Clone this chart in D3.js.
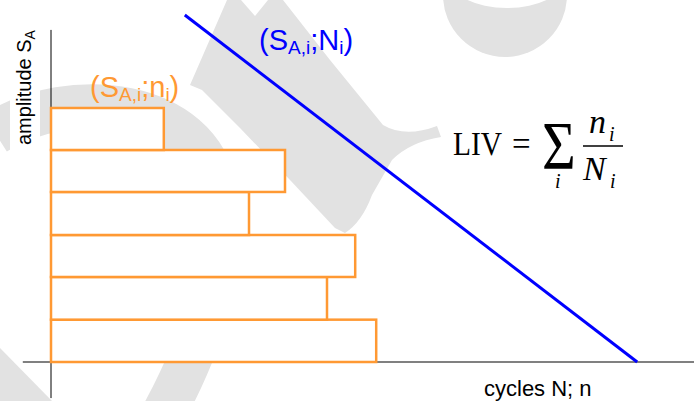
<!DOCTYPE html>
<html>
<head>
<meta charset="utf-8">
<script src="https://cdn.jsdelivr.net/npm/d3@7.9.0/dist/d3.min.js"></script>
<style>
  html, body { margin: 0; padding: 0; background: #fff; }
  svg { display: block; }
</style>
</head>
<body>
<svg id="chart" width="694" height="401"></svg>
<script>
// load levels (block spectrum), bottom to top
const levels = ['1', '2', '3', '4', '5', '6'];
const ampLow = [0, 12.2, 24.5, 36.6, 49.0, 61.1];
const ampHigh = [12.2, 24.5, 36.6, 49.0, 61.1, 73.2];
const cyclesN = [54.2, 46.0, 50.7, 33.0, 39.0, 18.8];

// S-N curve end points
const curveN = [22.3, 97.7];
const curveS = [100, 0];

// axis extents (in data units)
const xAxisExtent = [-4.7, 107.2];
const yAxisExtent = [-10.4, 95.7];

const W = 694, H = 401;
const grey = '#e2e2e2';
const orange = '#ff9933';

function draw() {
  const svg = d3.select('#chart');
  svg.selectAll('*').remove();

  const x = d3.scaleLinear().domain([0, 100]).range([51, 651]);
  const y = d3.scaleLinear().domain([0, 100]).range([362, 15]);

  svg.append('rect').attr('width', W).attr('height', H).attr('fill', '#fff');

  // faint watermark behind the chart
  const wm = svg.append('g').attr('fill', grey);
  wm.append('path')
    .attr('d', 'M-5,133 C70,85 200,100 215,190 C225,260 210,330 160,420')
    .attr('fill', 'none')
    .attr('stroke', grey)
    .attr('stroke-width', 44);
  wm.append('path')
    .attr('d', 'M227,0 L241,0 L255,16 L268,0 L283,0 L330,60 L383,125 Q405,138 437,126 L441,137 Q410,142 392,160 L372,195 Q362,222 345,233 L335,228 L290,180 L240,128 L202,90 L190,85 Z');
  wm.append('path')
    .attr('d', d3.arc()({ innerRadius: 0, outerRadius: 62, startAngle: 0, endAngle: 2 * Math.PI }))
    .attr('transform', 'translate(505,-5)');
  wm.append('ellipse')
    .attr('cx', 507).attr('cy', -22).attr('rx', 58).attr('ry', 30)
    .attr('fill', '#fff');
  wm.append('path').attr('d', 'M0,348 L52,401 L0,401 Z');

  // white box behind the y title
  svg.append('rect').attr('x', 10).attr('y', 20).attr('width', 30).attr('height', 145)
    .attr('fill', '#fff');

  // axes
  svg.append('line')
    .attr('x1', x(xAxisExtent[0])).attr('x2', x(xAxisExtent[1]))
    .attr('y1', y(0)).attr('y2', y(0))
    .attr('stroke', '#808080').attr('stroke-width', 2);
  svg.append('line')
    .attr('x1', x(0)).attr('x2', x(0))
    .attr('y1', y(yAxisExtent[0])).attr('y2', y(yAxisExtent[1]))
    .attr('stroke', '#000').attr('stroke-width', 1);

  // block load spectrum
  const bars = levels.map((lv, i) => ({ lv, lo: ampLow[i], hi: ampHigh[i], n: cyclesN[i] }));
  svg.append('g')
    .selectAll('rect')
    .data(bars)
    .join('rect')
    .attr('x', x(0))
    .attr('y', (d) => y(d.hi))
    .attr('width', (d) => x(d.n) - x(0))
    .attr('height', (d) => y(d.lo) - y(d.hi))
    .attr('fill', '#fff')
    .attr('stroke', orange)
    .attr('stroke-width', 2.5);

  // S-N line
  const line = d3.line().x((d) => x(d[0])).y((d) => y(d[1]));
  svg.append('path')
    .attr('d', line(d3.zip(curveN, curveS)))
    .attr('fill', 'none')
    .attr('stroke', '#0000ff')
    .attr('stroke-width', 3);

  const sans = 'Liberation Sans, Arial, sans-serif';
  const serif = 'Liberation Serif, Times New Roman, serif';

  function pairLabel(x0, y0, big, color) {
    const t = svg.append('text')
      .attr('x', x0).attr('y', y0)
      .attr('font-family', sans).attr('font-size', 29)
      .attr('fill', color);
    t.append('tspan').text('(S');
    t.append('tspan').attr('font-size', 19).attr('dy', 4).text('A,i');
    t.append('tspan').attr('dy', -4).text(';' + big);
    t.append('tspan').attr('font-size', 19).attr('dy', 4).text('i');
    t.append('tspan').attr('dy', -4).text(')');
  }
  pairLabel(90, 97, 'n', orange);
  pairLabel(259, 50, 'N', '#0000ff');

  // axis titles
  const yt = svg.append('text')
    .attr('transform', 'translate(31,145) rotate(-90)')
    .attr('font-family', sans).attr('font-size', 20).attr('fill', '#000');
  yt.append('tspan').text('amplitude S');
  yt.append('tspan').attr('font-size', 14).attr('dy', 4).text('A');

  svg.append('text')
    .attr('x', 484).attr('y', 396)
    .attr('font-family', sans).attr('font-size', 22).attr('fill', '#000')
    .text('cycles N; n');

  // formula
  const f = svg.append('g').attr('font-family', serif).attr('fill', '#000');
  f.append('text').attr('x', 453).attr('y', 155).attr('font-size', 34)
    .attr('textLength', 49).attr('lengthAdjust', 'spacingAndGlyphs').text('LIV');
  f.append('text').attr('x', 512).attr('y', 155).attr('font-size', 33).text('=');
  f.append('text').attr('transform', 'translate(542,168) scale(1,1.15)')
    .attr('font-size', 58).text('Σ');
  f.append('text').attr('x', 555).attr('y', 188).attr('font-size', 20)
    .attr('font-style', 'italic').text('i');
  f.append('text').attr('x', 589).attr('y', 133).attr('font-size', 34)
    .attr('font-style', 'italic').text('n');
  f.append('text').attr('x', 609).attr('y', 141).attr('font-size', 20)
    .attr('font-style', 'italic').text('i');
  f.append('line').attr('x1', 583).attr('x2', 623).attr('y1', 146).attr('y2', 146)
    .attr('stroke', '#000').attr('stroke-width', 1.5);
  f.append('text').attr('x', 583).attr('y', 180).attr('font-size', 34)
    .attr('font-style', 'italic').text('N');
  f.append('text').attr('x', 610).attr('y', 188).attr('font-size', 20)
    .attr('font-style', 'italic').text('i');
}

if (document.readyState === 'loading') {
  document.addEventListener('DOMContentLoaded', draw);
} else {
  draw();
}
</script>
</body>
</html>
